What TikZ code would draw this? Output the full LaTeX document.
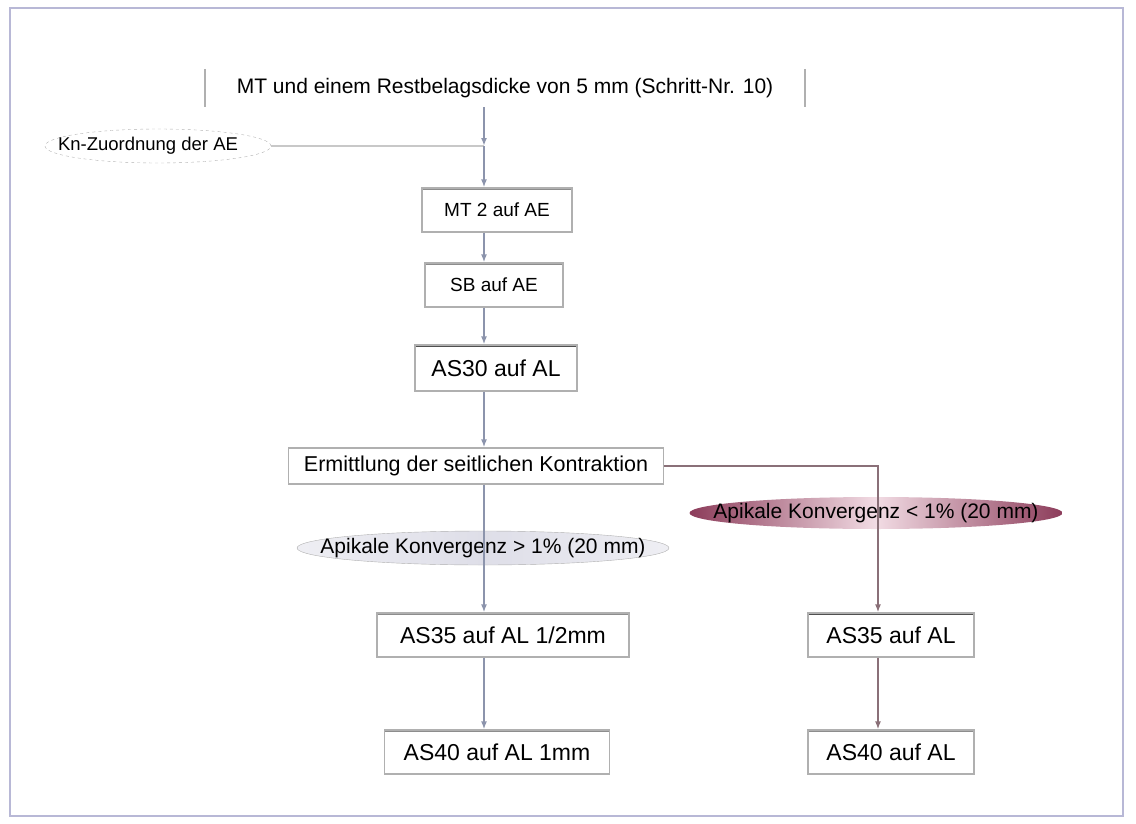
\documentclass[tikz,border=0pt]{standalone}
\usepackage{fontspec}
\setmainfont{Liberation Sans}
\usepackage{tikz}
\usetikzlibrary{arrows.meta,shapes.geometric}
\definecolor{frameblue}{RGB}{184,184,214}
\definecolor{flowblue}{RGB}{140,148,172}
\definecolor{flowred}{RGB}{138,112,120}
\definecolor{boxline}{RGB}{176,176,176}
\definecolor{boxtop}{RGB}{80,80,80}
\definecolor{pinkdark}{RGB}{140,60,90}
\definecolor{pinklight}{RGB}{242,220,228}
\definecolor{greyfill}{RGB}{222,222,232}

\begin{document}
\begin{tikzpicture}[
  x=1bp,y=-1bp,
  stepbox/.style={draw=boxline,line width=1.2bp,align=center,inner sep=0pt,
    font=\fontsize{19bp}{22bp}\selectfont},
  bigbox/.style={stepbox,font=\fontsize{23bp}{26bp}\selectfont},
  darktop/.style={path picture={\draw[boxtop,line width=4bp]
    (path picture bounding box.north west) -- (path picture bounding box.north east);}},
  greytop/.style={path picture={\draw[boxline!80!black,line width=4bp]
    (path picture bounding box.north west) -- (path picture bounding box.north east);}},
  cond/.style={ellipse,inner sep=0pt},
  condtext/.style={inner sep=0pt,font=\fontsize{21bp}{24bp}\selectfont},
  arrow/.style={-{Latex[length=8bp,width=6bp]},line width=1.6bp,flowblue},
  redarrow/.style={arrow,flowred}
]
\useasboundingbox (0,0) rectangle (1136,824);
\draw[frameblue,line width=1.5bp] (10,8) rectangle (1123,816);

% Hauptstrang
\node[font=\fontsize{21bp}{24bp}\selectfont,minimum width=600bp,minimum height=38bp] (start) at (505,88)
  {MT und einem Restbelagsdicke von 5 mm (Schritt-Nr. 10)};
\draw[boxline,line width=1.5bp] (start.north west) -- (start.south west);
\draw[boxline,line width=1.5bp] (start.north east) -- (start.south east);
\coordinate (join) at (484,146);
\node[cond,draw=boxline,dashed,minimum width=226bp,minimum height=34bp] (zuord) at (158,146) {};
\node[condtext,font=\fontsize{18.5bp}{22bp}\selectfont] (zuordtext) at (148,146) {Kn-Zuordnung der AE};
\node[stepbox,greytop,minimum width=150bp,minimum height=44bp] (mt) at (497,210) {MT 2 auf AE};
\node[stepbox,greytop,minimum width=138bp,minimum height=44bp] (sb) at (494,285) {SB auf AE};
\node[bigbox,darktop,minimum width=162bp,minimum height=46bp] (as30) at (496,368) {AS30 auf AL};
\node[stepbox,minimum width=375bp,minimum height=36bp,font=\fontsize{21.5bp}{24bp}\selectfont]
  (ermitt) at (476,466) {Ermittlung der seitlichen Kontraktion};

% Bedingungen
\node[cond,draw=boxline,left color=greyfill!50,right color=greyfill!50,middle color=greyfill,
  minimum width=372bp,minimum height=34bp] (konvL) at (483,548) {};
\node[condtext] (konvLtext) at (konvL.center) {Apikale Konvergenz > 1\% (20 mm)};
\node[cond,left color=pinkdark,right color=pinkdark,middle color=pinklight,
  minimum width=373bp,minimum height=32bp] (konvR) at (876,513) {};
\node[condtext] (konvRtext) at (konvR.center) {Apikale Konvergenz < 1\% (20 mm)};

% linker Zweig
\node[bigbox,greytop,minimum width=252bp,minimum height=44bp] (as35l) at (503,635) {AS35 auf AL 1/2mm};
\node[bigbox,greytop,minimum width=225bp,minimum height=44bp] (as40l) at (497,752) {AS40 auf AL 1mm};

% rechter Zweig
\node[bigbox,darktop,minimum width=166bp,minimum height=44bp] (as35r) at (891,635) {AS35 auf AL};
\node[bigbox,greytop,minimum width=166bp,minimum height=44bp] (as40r) at (891,752) {AS40 auf AL};

\draw[boxline!70,line width=1.6bp] (zuord) -- (join);
\draw[arrow] (start.south -| join) -- (join);
\draw[arrow] (join) -- (mt.north -| join);
\draw[arrow] (mt.south -| join) -- (sb.north -| join);
\draw[arrow] (sb.south -| join) -- (as30.north -| join);
\draw[arrow] (as30.south -| join) -- (ermitt.north -| join);
\draw[arrow] (ermitt.south -| join) -- (as35l.north -| join);
\draw[arrow] (as35l.south -| join) -- (as40l.north -| join);
\draw[redarrow] (ermitt.east) -- (878,466) -- (as35r.north -| 878,0);
\draw[redarrow] (as35r.south -| 878,0) -- (as40r.north -| 878,0);
\end{tikzpicture}
\end{document}
